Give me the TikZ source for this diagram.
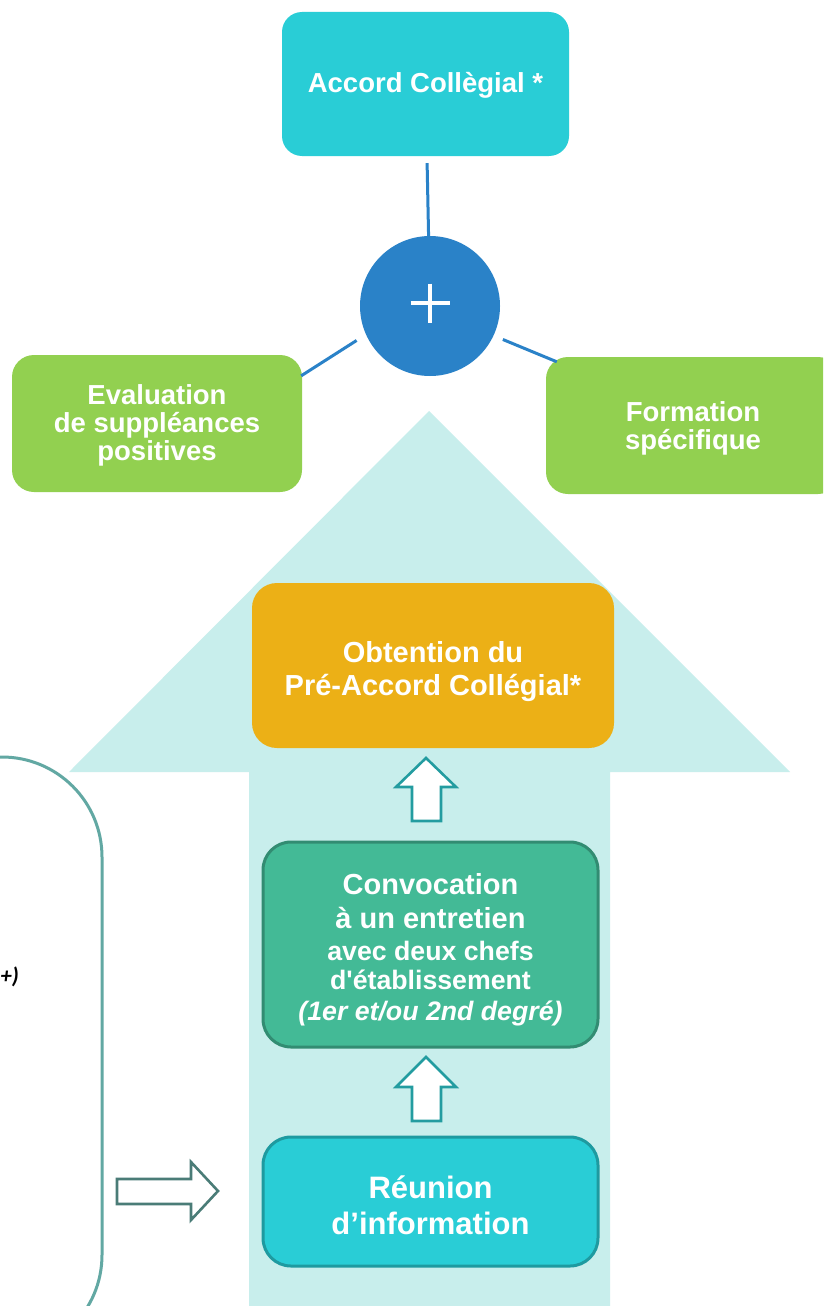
\documentclass[tikz,border=0pt]{standalone}
\usepackage{fontspec}
\setmainfont{Liberation Sans}
\newfontfamily\carlitofont{Carlito}
\usetikzlibrary{calc}
\newcommand{\myfs}[2]{\fontsize{#1}{#2}\selectfont}
\newcommand{\topstrut}[1]{\rule{0pt}{#1}}
\definecolor{cyanbox}{RGB}{41,205,214}
\definecolor{cyanborder}{RGB}{30,154,160}
\definecolor{plusblue}{RGB}{42,130,200}
\definecolor{greenbox}{RGB}{146,208,80}
\definecolor{arrowbg}{RGB}{200,238,236}
\definecolor{goldbox}{RGB}{236,176,22}
\definecolor{convbox}{RGB}{67,186,150}
\definecolor{convborder}{RGB}{50,140,114}
\definecolor{uparrowcol}{RGB}{35,156,160}
\definecolor{rightarrowcol}{RGB}{74,124,119}
\definecolor{leftboxcol}{RGB}{98,168,163}
\begin{document}
\begin{tikzpicture}[x=1pt,y=-1pt,
  box/.style={rectangle, align=center, text=white, inner sep=0pt, font=\bfseries},
  conn/.style={draw=plusblue, line width=3pt},
  blockup/.style={draw=uparrowcol, fill=white, line width=2.6pt, line join=miter},
  blockright/.style={draw=rightarrowcol, fill=white, line width=2.6pt, line join=miter},
  sidebox/.style={draw=leftboxcol, line width=3pt}
]
\useasboundingbox (0,0) rectangle (823,1306);
\clip (0,0) rectangle (823,1306);
\fill[white] (0,0) rectangle (823,1306);

% big background arrow
\fill[arrowbg] (249,1310) -- (249,772) -- (69,772) -- (429,411) -- (790,772) -- (610,772) -- (610,1310) -- cycle;

% left (cut-off) rounded box
\draw[sidebox, rounded corners=100pt] (-300,757) rectangle (102,1355);
\node[font=\carlitofont\bfseries\itshape\myfs{22.5}{24}, anchor=east, inner sep=0pt] (plustext) at (19,977) {+)};

% top box
\node[box, fill=cyanbox, rounded corners=20pt, minimum width=287pt, minimum height=144pt,
      font=\bfseries\myfs{27.5}{30}] (accord) at (425.5,84) {\topstrut{22pt}Accord Collègial *};

% plus circle
\node[circle, fill=plusblue, minimum size=140pt, inner sep=0pt] (plus) at (430,306) {};
\draw[white, line width=3.6pt] ($(plus.center)+(-19.5,-3)$) -- ($(plus.center)+(19.5,-3)$);
\draw[white, line width=3.6pt] ($(plus.center)+(0,-22.5)$) -- ($(plus.center)+(0,16.5)$);

% green boxes
\node[box, fill=greenbox, rounded corners=22pt, minimum width=290pt, minimum height=137pt,
      font=\bfseries\myfs{27.5}{28}] (evalbox) at (157,423.5) {\topstrut{24pt}Evaluation\\de suppléances\\positives};
\node[box, fill=greenbox, rounded corners=22pt, minimum width=294pt, minimum height=137pt,
      font=\bfseries\myfs{27.5}{28}] (formbox) at (693,425.5) {\topstrut{26pt}Formation\\spécifique};

% connectors
\draw[conn, shorten <=7pt] (accord) -- (plus);
\coordinate (lb) at ($(evalbox.north east)+(-1,21)$);
\coordinate (rb) at ($(formbox.north west)+(11,5)$);
\draw[conn, shorten <=11pt] (plus.204) -- (lb);
\draw[conn, shorten <=10pt] (plus.335) -- (rb);

% process boxes
\node[box, fill=goldbox, rounded corners=25pt, minimum width=362pt, minimum height=165pt,
      font=\bfseries\myfs{29}{33}] (obt) at (433,665.5) {\topstrut{33pt}Obtention du\\Pré-Accord Collégial*};

\node[box, fill=convbox, draw=convborder, line width=3pt, rounded corners=28pt,
      minimum width=335pt, minimum height=205pt,
      font=\bfseries\myfs{29}{34}] (conv) at (430.5,944.5)
  {\topstrut{31.5pt}Convocation\\à un entretien\\[-2pt]{\myfs{26.7}{30}avec deux chefs}\\[-5pt]{\myfs{26.7}{30}d\textquotesingle établissement}\\[-3pt]{\myfs{26.7}{30}\itshape (1er et/ou 2nd degré)}};

\node[box, fill=cyanbox, draw=cyanborder, line width=3pt, rounded corners=28pt,
      minimum width=335pt, minimum height=129pt,
      font=\bfseries\myfs{31}{36}] (reunion) at (430.5,1201.5) {\topstrut{31pt}Réunion\\d’information};

% hollow up arrows between the boxes
\draw[blockup] (426,758) -- (456,787) -- (441,787) -- (441,821) -- (412,821) -- (412,787) -- (396,787) -- cycle;
\draw[blockup] (426,1057) -- (456,1087) -- (441,1087) -- (441,1121) -- (412,1121) -- (412,1087) -- (396,1087) -- cycle;

% hollow right arrow
\draw[blockright] (117,1179) -- (191,1179) -- (191,1162) -- (218,1191) -- (191,1220) -- (191,1204) -- (117,1204) -- cycle;
\end{tikzpicture}
\end{document}
